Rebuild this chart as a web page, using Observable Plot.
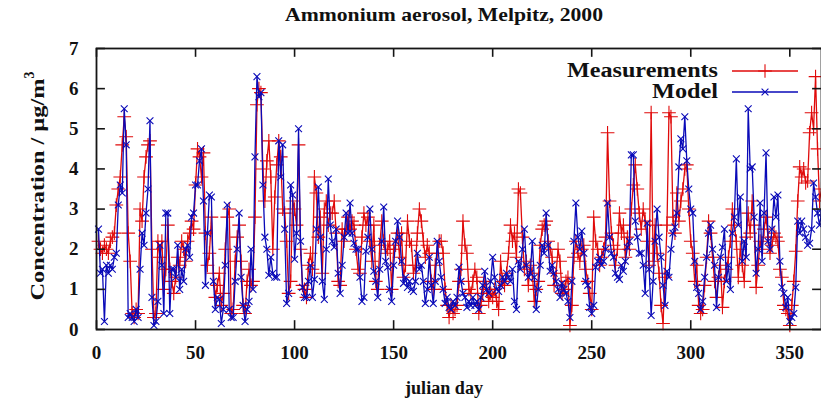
<!DOCTYPE html>
<html><head><meta charset="utf-8">
<script src="https://cdn.jsdelivr.net/npm/d3@7"></script>
<script src="https://cdn.jsdelivr.net/npm/@observablehq/plot@0.6"></script>
<style>body{margin:0;background:#fff}</style>
</head><body><div id="chart"></div>
<script>
// Daily ammonium aerosol concentration (µg/m³), julian days 1..366 of 2000
const measurements = [
2.2,2.0,1.9,2.1,2.0,1.9,2.2,2.3,2.4,3.1,
3.5,3.8,4.6,5.3,4.8,2.4,1.7,0.4,0.3,0.5,
0.4,3.0,2.7,3.8,4.3,4.6,4.7,2.0,0.3,0.4,
2.2,1.8,2.2,1.0,1.5,2.6,1.5,1.2,0.9,1.3,
1.8,1.6,2.2,2.0,1.7,2.2,2.4,2.7,2.5,3.6,
4.5,4.3,3.8,4.4,2.4,1.6,1.9,2.8,1.4,0.8,
1.1,1.4,0.6,0.9,2.0,2.8,3.0,0.4,0.5,1.7,
2.3,2.6,1.7,0.6,0.4,1.2,1.5,1.1,1.2,2.8,
5.6,6.0,5.9,4.0,3.2,4.2,4.7,3.8,2.0,3.3,
4.1,4.7,4.3,3.0,2.9,2.2,0.9,1.2,3.2,3.0,
2.6,4.6,2.0,1.1,1.0,0.8,1.6,1.9,1.5,3.8,
3.4,2.3,2.8,1.4,3.0,3.2,2.6,2.9,2.9,3.2,
2.4,1.2,1.1,2.5,2.2,2.5,2.8,2.5,2.7,2.6,
2.0,1.5,1.4,2.3,2.9,2.6,2.8,2.2,1.7,2.6,
1.2,1.0,2.1,2.7,2.2,1.9,2.0,2.2,1.0,2.0,
2.1,2.4,1.8,2.4,1.3,1.6,2.7,2.2,2.1,1.4,
1.6,2.4,3.0,2.7,2.2,1.8,2.1,1.9,1.2,1.0,
1.6,1.9,2.2,2.2,1.9,1.0,0.6,0.3,0.6,0.4,
0.5,0.6,1.2,1.5,2.7,2.1,1.9,1.0,0.9,1.2,
1.5,1.3,0.4,0.6,0.9,1.2,1.0,0.7,0.9,0.8,
1.0,0.7,0.5,1.7,1.2,1.1,1.4,1.9,2.6,2.2,
2.4,1.8,3.5,3.4,2.3,1.5,1.7,1.1,1.6,1.4,
0.7,1.0,1.2,2.1,2.5,2.6,2.7,2.2,2.0,1.8,
1.1,1.4,2.0,1.7,0.9,1.0,1.2,1.3,0.1,0.6,
1.8,2.2,1.9,1.7,2.0,2.1,1.5,1.2,0.9,0.5,
2.8,2.2,2.0,1.6,1.8,2.0,2.3,4.9,3.2,2.4,
2.1,1.6,2.0,2.9,2.4,2.6,1.8,2.3,2.0,3.0,
3.6,4.1,3.5,2.9,2.5,3.0,2.7,2.2,1.6,5.4,
1.7,2.6,1.9,1.4,0.6,0.15,1.3,2.6,5.4,5.3,
2.8,2.4,3.4,2.7,3.2,3.5,4.0,4.1,3.0,2.2,
1.9,1.2,1.6,0.6,0.4,0.5,1.1,1.8,2.7,2.4,
1.8,1.2,0.8,1.3,1.6,0.55,1.2,1.5,1.8,2.2,
3.0,2.6,2.2,1.3,2.0,1.6,1.2,2.3,2.9,2.4,
3.2,2.6,1.05,1.6,2.2,2.0,2.5,2.8,2.3,1.9,
2.1,2.4,2.3,2.2,1.5,1.3,0.6,0.5,0.4,0.1,
0.6,1.2,1.95,3.2,4.05,3.8,4.0,3.65,3.7,4.9,
5.4,5.0,6.3,4.5,3.2,3.5
];
const model = [
2.5,1.4,1.5,0.2,1.6,1.4,1.6,1.5,1.8,1.9,
3.1,3.6,3.4,5.5,4.6,0.3,0.4,0.3,0.2,0.5,
0.3,1.5,2.4,2.1,2.9,3.5,5.2,0.8,0.1,0.2,
0.7,2.1,1.6,0.4,2.9,2.9,0.4,1.5,1.5,1.3,
2.1,1.0,1.5,1.2,2.0,2.1,1.8,2.8,2.9,3.6,
3.6,4.2,4.5,3.2,1.1,2.4,3.35,3.3,1.2,0.5,
0.8,0.75,0.15,0.5,1.6,3.1,0.5,0.3,0.3,1.2,
2.0,2.9,1.3,0.6,0.2,0.5,0.7,2.0,1.0,4.3,
6.3,5.8,5.9,3.6,2.3,2.0,1.35,1.8,1.4,1.3,
1.3,4.7,3.8,4.6,2.5,0.65,0.9,3.6,3.35,1.75,
2.4,5.0,2.2,1.05,0.8,0.8,1.2,1.6,0.8,1.25,
2.5,3.55,2.3,1.2,0.75,2.0,3.75,2.6,2.2,2.05,
2.5,1.4,0.9,1.6,2.3,2.9,2.4,3.15,2.4,2.15,
2.0,2.0,1.3,0.7,0.8,1.95,2.3,3.0,2.0,1.45,
1.2,0.8,1.5,2.2,3.05,1.7,1.55,1.0,0.7,1.6,
2.2,2.7,2.3,1.7,1.15,1.3,1.05,1.2,1.0,0.95,
1.2,1.9,1.5,1.6,1.2,0.65,1.0,1.8,1.1,0.65,
1.2,2.2,1.7,1.3,1.0,0.65,0.8,0.55,0.5,0.7,
0.6,0.8,1.55,1.2,0.9,0.8,0.55,0.7,0.6,0.8,
0.6,0.7,0.5,0.8,1.1,1.45,1.0,0.9,1.2,1.8,
1.3,1.0,0.95,1.1,1.3,1.2,1.4,1.3,1.2,1.5,
0.7,0.5,1.7,1.5,2.0,2.5,1.6,1.3,1.4,2.2,
1.3,0.5,1.0,1.6,2.1,1.9,2.9,2.1,1.45,1.6,
1.4,1.2,1.0,0.8,1.15,1.0,0.9,0.7,0.3,1.2,
2.2,3.15,2.3,2.0,2.45,1.9,1.2,1.1,0.55,0.4,
0.6,1.55,1.7,1.8,1.6,1.7,2.0,3.15,2.3,1.9,
1.8,1.4,1.3,1.25,1.6,1.45,1.7,2.05,2.2,4.35,
4.35,2.7,2.3,1.9,1.9,1.6,0.9,2.65,1.5,0.35,
1.2,2.2,3.0,2.3,1.8,1.1,0.6,1.45,1.3,2.0,
2.4,2.55,2.9,4.05,4.75,4.5,5.3,4.2,3.5,3.0,
2.9,1.7,1.05,0.9,0.5,0.7,1.3,1.8,2.4,2.6,
2.0,1.6,0.55,1.3,1.8,2.05,2.5,1.2,1.6,1.0,
2.4,2.8,4.25,2.6,3.3,1.7,2.2,1.8,5.5,4.0,
4.05,2.8,1.4,2.0,3.15,1.7,2.9,4.4,2.2,2.0,
2.5,3.3,2.8,3.35,1.7,1.05,0.9,0.55,0.8,0.2,
0.3,0.4,1.05,2.7,2.4,2.7,2.5,2.3,2.1,2.15,
2.5,3.65,3.3,2.9,2.6,2.9
];
const xTicks = [0, 50, 100, 150, 200, 250, 300, 350];
const yTicks = [0, 1, 2, 3, 4, 5, 6, 7];
const seriesNames = ["Measurements", "Model"];
const titleText = "Ammonium aerosol, Melpitz, 2000";
const xLabel = "julian day";

const RED = "#e00a0a", BLUE = "#0a0ab8", AX = "#151515";
const days = measurements.map((_, i) => i + 1);
const meas = days.map((d, i) => ({day: d, value: measurements[i]}));
const mod = days.map((d, i) => ({day: d, value: model[i]}));

const W = 821, H = 405;
const plot = Plot.plot({
  width: W, height: H,
  marginLeft: 96, marginRight: 0, marginTop: 48, marginBottom: 76,
  x: {domain: [0, 366]},
  y: {domain: [0, 7]},
  style: {fontFamily: "'Liberation Serif', 'Times New Roman', serif", fontSize: "19px", fontWeight: "bold", background: "#fff", overflow: "visible", color: "#111"},
  marks: [
    Plot.line(meas, {x: "day", y: "value", stroke: RED, strokeWidth: 1.3}),
    Plot.dot(meas, {x: "day", y: "value", symbol: "plus", stroke: RED, r: 4.5, strokeWidth: 1.1}),
    Plot.line(mod, {x: "day", y: "value", stroke: BLUE, strokeWidth: 1.3}),
    Plot.dot(mod, {x: "day", y: "value", symbol: "times", stroke: BLUE, r: 3.2, strokeWidth: 1.1}),
    Plot.frame({stroke: AX, strokeWidth: 1.8}),
    Plot.ruleX(xTicks, {x: d => d, y1: 0, y2: 0.22, stroke: AX, strokeWidth: 1.6}),
    Plot.ruleX(xTicks, {x: d => d, y1: 6.78, y2: 7, stroke: AX, strokeWidth: 1.6}),
    Plot.ruleY(yTicks, {y: d => d, x1: 0, x2: 4.5, stroke: AX, strokeWidth: 1.6}),
    Plot.ruleY(yTicks, {y: d => d, x1: 361.5, x2: 366, stroke: AX, strokeWidth: 1.6}),
    Plot.axisX({ticks: xTicks, tickSize: 0, tickPadding: 16, label: null, tickFormat: d => String(d)}),
    Plot.axisY({ticks: yTicks, tickSize: 0, tickPadding: 18, label: null, tickFormat: d => String(d)})
  ]
});
document.getElementById("chart").appendChild(plot);

const svg = d3.select(plot);
const font = "'Liberation Serif', 'Times New Roman', serif";
svg.append("text").attr("x", 444).attr("y", 21).attr("text-anchor", "middle")
  .attr("font-family", font).attr("font-size", 19).attr("font-weight", "bold").attr("fill", "#111")
  .attr("textLength", 318).attr("lengthAdjust", "spacingAndGlyphs").text(titleText);
svg.append("text").attr("x", 444).attr("y", 394).attr("text-anchor", "middle")
  .attr("font-family", font).attr("font-size", 18).attr("font-weight", "bold").attr("fill", "#111")
  .attr("textLength", 78).attr("lengthAdjust", "spacingAndGlyphs").text(xLabel);
const yl = svg.append("text").attr("transform", "translate(44,186) rotate(-90)").attr("text-anchor", "middle")
  .attr("font-family", font).attr("font-size", 19).attr("font-weight", "bold").attr("fill", "#111");
yl.append("tspan").attr("textLength", 222).attr("lengthAdjust", "spacingAndGlyphs").text("Concentration / µg/m");
yl.append("tspan").attr("dy", -10).attr("font-size", 14).text("3");

// legend
const leg = [{name: seriesNames[0], color: RED, sym: d3.symbolPlus, size: Math.PI * 4.5 * 4.5, y: 71, len: 151},
             {name: seriesNames[1], color: BLUE, sym: d3.symbolTimes, size: Math.PI * 3.2 * 3.2, y: 92, len: 66}];
for (const l of leg) {
  svg.append("text").attr("x", 718).attr("y", l.y + 6).attr("text-anchor", "end")
    .attr("font-family", font).attr("font-size", 20).attr("font-weight", "bold").attr("fill", "#111")
    .attr("textLength", l.len).attr("lengthAdjust", "spacingAndGlyphs").text(l.name);
  svg.append("line").attr("x1", 732).attr("x2", 798).attr("y1", l.y).attr("y2", l.y)
    .attr("stroke", l.color).attr("stroke-width", 1.4);
  svg.append("path").attr("transform", `translate(765,${l.y})`).attr("d", d3.symbol(l.sym, l.size)())
    .attr("fill", "none").attr("stroke", l.color).attr("stroke-width", 1.1);
}
</script>
</body></html>
